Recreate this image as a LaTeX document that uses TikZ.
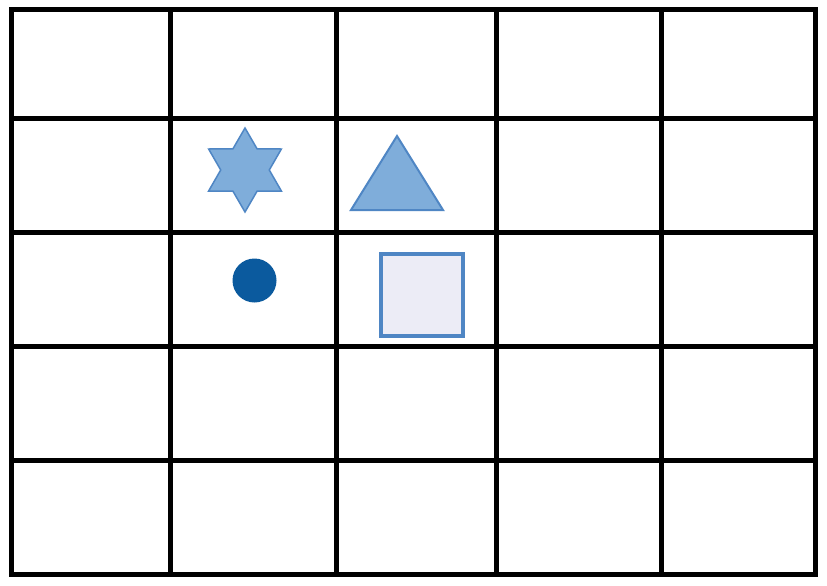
\documentclass[tikz,border=0pt]{standalone}
\usetikzlibrary{shapes.geometric}
\definecolor{lightblue}{HTML}{7FADDA}
\definecolor{midblue}{HTML}{4F86C4}
\definecolor{darkblue}{HTML}{0B5A9E}
\definecolor{lavender}{HTML}{ECECF6}
\tikzset{
  gridline/.style={line width=5pt, black, line cap=rect},
  shapeA/.style={fill=lightblue, draw=midblue, line width=2pt},
}
\begin{document}
\begin{tikzpicture}[x=1pt,y=-1pt]
\useasboundingbox (0,0) rectangle (827,586);
\fill[white] (0,0) rectangle (827,586);
% grid
\foreach \x in {11,170.5,336.5,496,661.5,815.5}
  \draw[gridline] (\x,9.5) -- (\x,574.5);
\foreach \y in {9.5,118,232.5,346,460,574.5}
  \draw[gridline] (11,\y) -- (815.5,\y);
% star
\node[star, star points=6, star point ratio=1.73, minimum size=84pt, inner sep=0pt, shapeA, line width=1.5pt] (star) at (245,170) {};
% triangle
\coordinate (tA) at (397,136);
\coordinate (tB) at (351,210);
\coordinate (tC) at (443,210);
\draw[shapeA, line join=miter] (tA) -- (tB) -- (tC) -- cycle;
% circle
\node[circle, fill=darkblue, minimum size=44pt, inner sep=0pt] (dot) at (254.5,280.5) {};
% square
\node[draw=midblue, fill=lavender, line width=4pt, minimum size=82pt, inner sep=0pt] (sq) at (422,295) {};
\end{tikzpicture}
\end{document}
